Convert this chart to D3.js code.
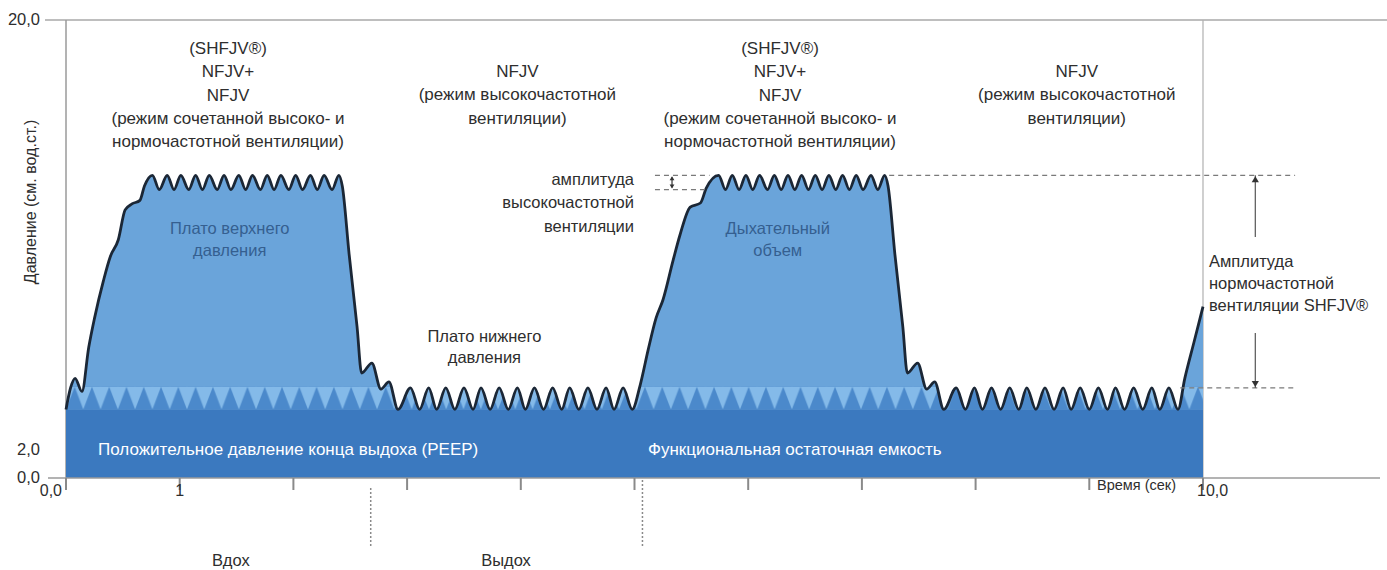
<!DOCTYPE html>
<html><head><meta charset="utf-8">
<script src="https://cdn.jsdelivr.net/npm/d3@7"></script>
<style>
html,body{margin:0;padding:0;background:#fff;}
svg{display:block;font-family:"Liberation Sans",Arial,sans-serif;}
</style></head><body>
<svg id="chart" width="1387" height="570"></svg>
<script>
// ---------- data ----------
const xTicks = [0,1,2,3,4,5,6,7,8,9,10];
const xTickLabels = ["0,0","1","","","","","","","","","10,0"];
const yTicks = [0,2,20];
const yTickLabels = ["0,0","2,0","20,0"];

const waveTime = [
  0.00,0.04,0.08,0.14,0.20,0.25,0.33,0.39,0.46,0.52,0.58,0.65,0.69,
  0.76,0.82,0.89,0.95,1.01,1.08,1.14,1.20,1.26,1.33,1.39,1.45,1.52,1.58,1.64,1.71,1.77,1.83,1.89,1.96,2.02,2.08,2.15,2.21,2.27,2.34,2.40,
  2.43,2.49,2.56,2.60,2.69,2.77,2.84,2.92,
  3.03,3.11,3.19,3.26,3.34,3.42,3.50,3.58,3.65,3.73,3.81,3.89,3.97,4.04,4.12,4.20,4.28,4.36,4.43,4.51,4.59,4.67,4.75,4.82,4.90,4.98,
  5.05,5.12,5.19,5.25,5.34,5.40,5.49,5.58,5.63,
  5.74,5.80,5.86,5.92,5.98,6.04,6.10,6.17,6.23,6.29,6.35,6.41,6.47,6.53,6.59,6.65,6.71,6.77,6.83,6.89,6.95,7.01,7.08,7.14,7.20,
  7.23,7.29,7.36,7.40,7.49,7.57,7.64,7.72,
  7.83,7.91,7.99,8.06,8.14,8.22,8.30,8.38,8.45,8.53,8.61,8.69,8.77,8.84,8.92,9.00,9.08,9.16,9.23,9.31,9.39,9.47,9.55,9.62,9.70,9.78,
  9.84,9.92,10.00
];
const wavePressure = [
  3.70,4.60,5.00,4.45,6.30,7.50,9.10,10.10,10.80,12.05,12.30,12.45,13.05,
  13.5,12.9,13.5,12.9,13.5,12.9,13.5,12.9,13.5,12.9,13.5,12.9,13.5,12.9,13.5,12.9,13.5,12.9,13.5,12.9,13.5,12.9,13.5,12.9,13.5,12.9,13.5,
  13.05,10.2,7.15,5.22,5.64,4.55,4.85,3.70,
  4.6,3.7,4.6,3.7,4.6,3.7,4.6,3.7,4.6,3.7,4.6,3.7,4.6,3.7,4.6,3.7,4.6,3.7,4.6,3.7,4.6,3.7,4.6,3.7,4.6,3.7,
  4.72,6.19,7.53,8.28,9.95,11.0,12.17,12.34,12.95,
  13.5,12.9,13.5,12.9,13.5,12.9,13.5,12.9,13.5,12.9,13.5,12.9,13.5,12.9,13.5,12.9,13.5,12.9,13.5,12.9,13.5,12.9,13.5,12.9,13.5,
  13.05,10.2,7.15,5.22,5.64,4.55,4.85,3.70,
  4.6,3.7,4.6,3.7,4.6,3.7,4.6,3.7,4.6,3.7,4.6,3.7,4.6,3.7,4.6,3.7,4.6,3.7,4.6,3.7,4.6,3.7,4.6,3.7,4.6,3.7,
  5.0,6.5,8.0
];

const peepLevel = 3.7;        // top of PEEP band
const toothTop = 4.65;        // top of the high-frequency teeth band
const toothPeriod = 0.152;    // s
const hfAmplitude = [12.9, 13.5];
const nfAmplitude = [4.6, 13.5];
const phaseBoundaries = [2.68, 5.07];
const phaseLabels = ["Вдох","Выдох"];
const phaseLabelTimes = [1.45, 3.87];

const modeCombined = ["(SHFJV®)","NFJV+","NFJV","(режим сочетанной высоко- и","нормочастотной вентиляции)"];
const modeHigh = ["NFJV","(режим высокочастотной","вентиляции)"];

// ---------- scales ----------
const svg = d3.select("#chart");
const x = d3.scaleLinear().domain([0,10]).range([66,1203]);
const y = d3.scaleLinear().domain([0,2,20]).range([478,450,20]);

const wave = waveTime.map((t,i)=>({t, p: wavePressure[i]}));

const C = {
  fill:"#6aa4da", band:"#3b79bf", toothDark:"#4b89cb", toothLight:"#84bae9",
  stroke:"#1b2736", axis:"#9a9a9a", text:"#2e2e2e", inner:"#355f90"
};

const defs = svg.append("defs");
const pw = x(toothPeriod)-x(0), ph = y(peepLevel)-y(toothTop);
const pat = defs.append("pattern").attr("id","teeth").attr("patternUnits","userSpaceOnUse")
  .attr("x",x(0)).attr("y",y(toothTop)).attr("width",pw).attr("height",ph);
pat.append("rect").attr("width",pw).attr("height",ph).attr("fill",C.toothLight);
pat.append("path").attr("d",`M0,${ph} L${pw/2},0 L${pw},${ph} Z`).attr("fill",C.toothDark);

const area = d3.area().x(d=>x(d.t)).y0(y(0)).y1(d=>y(d.p)).curve(d3.curveMonotoneX);
const line = d3.line().x(d=>x(d.t)).y(d=>y(d.p)).curve(d3.curveMonotoneX);

defs.append("clipPath").attr("id","waveClip").append("path").attr("d",area(wave));

// grid / frame lines
svg.append("line").attr("x1",45).attr("x2",1387).attr("y1",y(20)).attr("y2",y(20))
  .attr("stroke","#a8a8a8").attr("stroke-width",1.5);
svg.append("line").attr("x1",x(0)).attr("x2",x(0)).attr("y1",y(20)).attr("y2",y(0))
  .attr("stroke",C.axis).attr("stroke-width",1.5);
svg.append("line").attr("x1",x(10)).attr("x2",x(10)).attr("y1",y(20)).attr("y2",y(0))
  .attr("stroke","#b0b0b0").attr("stroke-width",1.2);

// wave fill
svg.append("path").attr("d",area(wave)).attr("fill",C.fill);
// teeth band
svg.append("rect").attr("x",x(0)).attr("width",x(10)-x(0)).attr("y",y(toothTop)).attr("height",ph)
  .attr("fill","url(#teeth)").attr("clip-path","url(#waveClip)");
// PEEP band
svg.append("rect").attr("x",x(0)).attr("width",x(10)-x(0)).attr("y",y(peepLevel)).attr("height",y(0)-y(peepLevel))
  .attr("fill",C.band);
// wave stroke
svg.append("path").attr("d",line(wave)).attr("fill","none").attr("stroke",C.stroke).attr("stroke-width",2.8)
  .attr("stroke-linejoin","round");

// x axis
svg.append("line").attr("x1",48).attr("x2",1380).attr("y1",y(0)).attr("y2",y(0))
  .attr("stroke",C.axis).attr("stroke-width",1.5);
svg.append("g").selectAll("line").data(xTicks).join("line")
  .attr("x1",d=>x(d)).attr("x2",d=>x(d)).attr("y1",y(0)).attr("y2",y(0)+12)
  .attr("stroke","#8a8a8a").attr("stroke-width",2);
svg.append("g").selectAll("text").data(xTicks).join("text")
  .attr("x",(d,i)=> i===0 ? x(d)-4 : (i===xTicks.length-1 ? x(d)-6 : x(d)))
  .attr("y",496)
  .attr("text-anchor",(d,i)=> i===0 ? "end" : (i===xTicks.length-1 ? "start" : "middle"))
  .attr("font-size",16).attr("fill",C.text).text((d,i)=>xTickLabels[i]);
svg.append("text").attr("x",1097).attr("y",490).attr("font-size",14.5).attr("fill",C.text).text("Время (сек)");

// y axis labels
svg.append("g").selectAll("text").data(yTicks).join("text")
  .attr("x",40).attr("y",d=>y(d)+5).attr("text-anchor","end")
  .attr("font-size",16.5).attr("fill",C.text).text((d,i)=>yTickLabels[i]);
svg.append("text").attr("transform",`translate(36,${y(20)+182}) rotate(-90)`).attr("text-anchor","middle")
  .attr("font-size",16).attr("fill",C.text).text("Давление (см. вод.ст.)");

// phase boundaries
svg.append("g").selectAll("line").data(phaseBoundaries).join("line")
  .attr("x1",d=>x(d)).attr("x2",d=>x(d)).attr("y1",(d,i)=> i===0 ? 488 : 480).attr("y2",548)
  .attr("stroke","#8a8a8a").attr("stroke-width",1.5).attr("stroke-dasharray","2,2");
svg.append("g").selectAll("text").data(phaseLabelTimes).join("text")
  .attr("x",d=>x(d)).attr("y",566).attr("text-anchor","middle")
  .attr("font-size",16.5).attr("fill",C.text).text((d,i)=>phaseLabels[i]);

// text helper
function block(lines, cx, y0, opts={}){
  const t = svg.append("text").attr("font-size",opts.size||17).attr("fill",opts.color||C.text)
    .attr("text-anchor",opts.anchor||"middle");
  lines.forEach((s,i)=> t.append("tspan").attr("x",cx).attr("y",y0+i*(opts.lh||23.3)).text(s));
}
block(modeCombined, x(1.425), 54);
block(modeHigh, x(3.97), 77);
block(modeCombined, x(6.28), 54);
block(modeHigh, x(8.89), 77);

block(["Плато верхнего","давления"], x(1.44), 234, {color:C.inner, lh:22, size:16.5});
block(["Дыхательный","объем"], x(6.26), 234, {color:C.inner, lh:22, size:16.5});
block(["Плато нижнего","давления"], x(3.68), 342, {lh:21, size:16.5});
block(["амплитуда","высокочастотной","вентиляции"], 634, 185, {anchor:"end", size:16.5});
block(["Амплитуда","нормочастотной","вентиляции SHFJV®"], 1209, 267, {anchor:"start", lh:22, size:16.5});

svg.append("text").attr("x",98).attr("y",455).attr("font-size",17).attr("fill","#fff")
  .text("Положительное давление конца выдоха (PEEP)");
svg.append("text").attr("x",648).attr("y",455).attr("font-size",17).attr("fill","#fff")
  .text("Функциональная остаточная емкость");

// amplitude markers
const dash = {stroke:"#7a7a7a", w:1.3, da:"5,4"};
function hline(p, t0, t1){
  svg.append("line").attr("x1",x(t0)).attr("x2",x(t1)).attr("y1",y(p)).attr("y2",y(p))
    .attr("stroke",dash.stroke).attr("stroke-width",dash.w).attr("stroke-dasharray",dash.da);
}
hline(hfAmplitude[1], 5.18, 5.66);
hline(hfAmplitude[0], 5.18, 5.62);
hline(nfAmplitude[1], 7.24, 10.81);
hline(nfAmplitude[0], 9.80, 10.81);

function arrowHead(cx, cy, dir, size){
  svg.append("path").attr("d",`M${cx-size*0.6},${cy-dir*size} L${cx},${cy} L${cx+size*0.6},${cy-dir*size} Z`)
    .attr("fill","#333");
}
// small HF arrow
const hx = x(5.33);
svg.append("line").attr("x1",hx).attr("x2",hx).attr("y1",y(hfAmplitude[1])+2).attr("y2",y(hfAmplitude[0])-2)
  .attr("stroke","#333").attr("stroke-width",1.2);
arrowHead(hx, y(hfAmplitude[1])+1, -1, 4);
arrowHead(hx, y(hfAmplitude[0])-1, 1, 4);
// NF arrow
const nx = x(10.46);
svg.append("line").attr("x1",nx).attr("x2",nx).attr("y1",y(nfAmplitude[1])).attr("y2",237)
  .attr("stroke","#555").attr("stroke-width",1.2);
svg.append("line").attr("x1",nx).attr("x2",nx).attr("y1",333).attr("y2",y(nfAmplitude[0]))
  .attr("stroke","#555").attr("stroke-width",1.2);
arrowHead(nx, y(nfAmplitude[1])+1, -1, 6);
arrowHead(nx, y(nfAmplitude[0])-1, 1, 6);
</script>
</body></html>
